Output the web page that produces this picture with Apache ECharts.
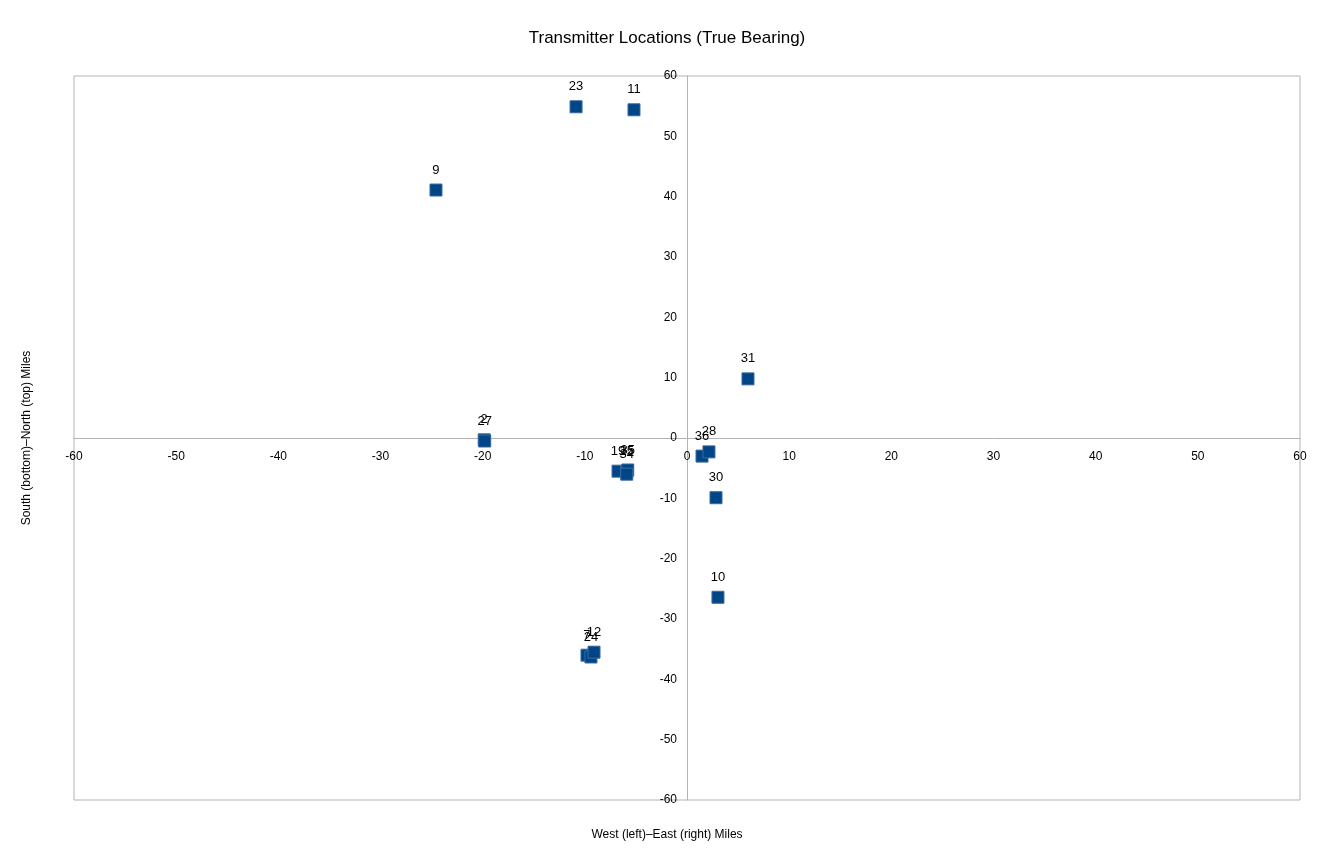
<!DOCTYPE html>
<html>
<head>
<meta charset="utf-8">
<script src="https://cdn.jsdelivr.net/npm/echarts@6/dist/echarts.min.js"></script>
<style>html,body{margin:0;padding:0;background:#fff}#c{width:1334px;height:863px}</style>
</head>
<body>
<div id="c"></div>
<script>
const labels = ['23','11','9','31','2','27','19','25','35','34','30','10','7','24','12','36','28'];
const eastWest = [-10.86,-5.19,-24.57,5.97,-19.85,-19.8,-6.75,-5.9,-5.8,-5.9,2.84,3.03,-9.79,-9.4,-9.1,1.47,2.15];
const northSouth = [54.9,54.4,41.1,9.8,-0.3,-0.5,-5.5,-5.6,-5.3,-6.0,-9.9,-26.4,-36.0,-36.3,-35.5,-3.0,-2.3];
const axisTicks = [-60,-50,-40,-30,-20,-10,0,10,20,30,40,50,60];

const data = labels.map((l,i)=>({value:[eastWest[i],northSouth[i]], name:l}));
const chart = echarts.init(document.getElementById('c'));
const font = 'Liberation Sans, Arial, sans-serif';
const W = 1334, H = 863, L = 74, R = 34, T = 76, B = 63;
const gw = W - L - R, gh = H - T - B;
chart.setOption({
  animation:false,
  title:{text:'Transmitter Locations (True Bearing)', left:'center', top:25,
    textStyle:{fontFamily:font, fontSize:17, fontWeight:'normal', color:'#000'}},
  grid:{left:L, right:R, top:T, bottom:B, show:true, borderColor:'#b3b3b3', borderWidth:1},
  xAxis:{type:'value', min:axisTicks[0], max:axisTicks[axisTicks.length-1], interval:10,
    position:'bottom', offset:-gh/2,
    axisLine:{onZero:false, lineStyle:{color:'#b3b3b3'}}, axisTick:{show:false},
    splitLine:{show:false},
    axisLabel:{fontFamily:font, fontSize:12, color:'#000', margin:13}},
  yAxis:{type:'value', min:axisTicks[0], max:axisTicks[axisTicks.length-1], interval:10,
    position:'left', offset:-gw/2,
    axisLine:{onZero:false, lineStyle:{color:'#b3b3b3'}}, axisTick:{show:false},
    splitLine:{show:false},
    axisLabel:{fontFamily:font, fontSize:12, color:'#000', margin:10}},
  graphic:[
    {type:'text', left:'center', top:829, style:{text:'West (left)\u2013East (right) Miles', font:'12px '+font, fill:'#000'}},
    {type:'text', x:21, y:438, rotation:Math.PI/2, style:{text:'South (bottom)\u2013North (top) Miles', font:'12px '+font, fill:'#000', align:'center', verticalAlign:'top'}}
  ],
  series:[{type:'scatter', symbol:'rect', symbolSize:12, data:data,
    itemStyle:{color:'#004586', borderColor:'#3a6aa0', borderWidth:1, opacity:1},
    label:{show:true, position:'top', distance:7, formatter:p=>p.name, fontFamily:font, fontSize:13, color:'#000'},
    labelLayout:{hideOverlap:false}
  }]
});
</script>
</body>
</html>
